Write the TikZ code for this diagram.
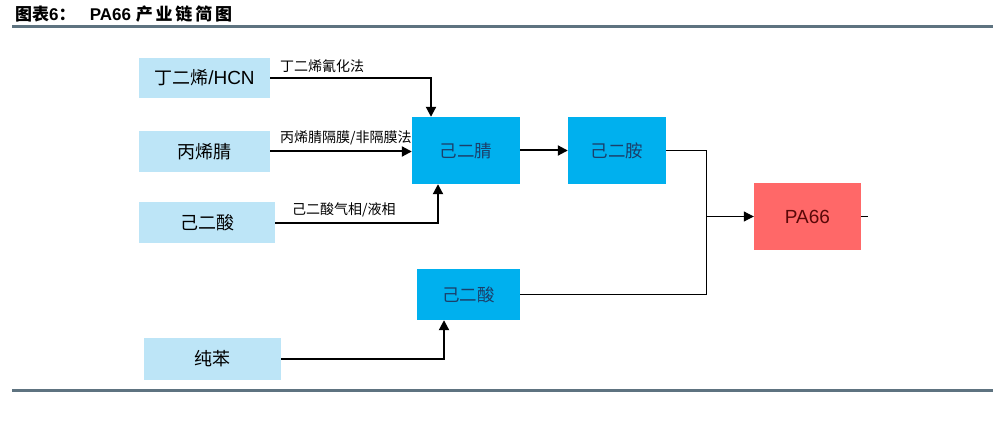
\documentclass[tikz,border=0pt]{standalone}
\usepackage{fontspec}
\setmainfont{Liberation Sans}
\newfontfamily\cjk{Noto Sans CJK SC}
\usetikzlibrary{arrows.meta}
\definecolor{paleblue}{HTML}{BDE5F7}
\definecolor{deepblue}{HTML}{00B0EE}
\definecolor{softred}{HTML}{FF6868}
\definecolor{rulegray}{HTML}{5E7380}
\definecolor{navytext}{HTML}{1B3F6A}
\definecolor{darkred}{HTML}{5A0808}
\tikzset{
  raw/.style={fill=paleblue, inner sep=0pt, font=\cjk\fontsize{18}{18}\selectfont},
  mid/.style={fill=deepblue, inner sep=0pt, text=navytext, font=\cjk\fontsize{17.5}{18}\selectfont},
  arr/.style={-{Triangle[length=10pt,width=10pt]}, line width=2pt},
  thin/.style={line width=1pt},
  lbl/.style={font=\cjk\fontsize{14}{14}\selectfont, inner sep=1pt}
}
\begin{document}
\begin{tikzpicture}[x=1pt,y=-1pt]
    \useasboundingbox (0,0) rectangle (998,422);
    % title and rules
    \node [anchor=west, inner sep=0pt, font=\bfseries\fontsize{17}{17}\selectfont] (title) at (15,14) {{\cjk 图表}6{\cjk ：}\ \ \ PA66 {\cjk 产\,业\,链\,简\,图}};
    \draw[rulegray, line width=3pt] (12,27) -- (993,27);
    \draw[rulegray, line width=3pt] (12,390) -- (993,390);
    % raw materials
    \node [raw, minimum width=131, minimum height=40] (hcn) at (204.5,78) {丁二烯{\rmfamily\fontsize{19}{19}\selectfont /HCN}};
    \node [raw, minimum width=131, minimum height=41] (acn) at (204.5,151.5) {丙烯腈};
    \node [raw, minimum width=136, minimum height=41] (adaL) at (207,222.5) {己二酸};
    \node [raw, minimum width=137, minimum height=42] (bz) at (212.5,359) {纯苯};
    % intermediates
    \node [mid, minimum width=108, minimum height=67] (adn) at (466,150.5) {己二腈};
    \node [mid, minimum width=98, minimum height=67] (hmda) at (617,150.5) {己二胺};
    \node [mid, minimum width=103, minimum height=51] (adaB) at (468.5,294.5) {己二酸};
    % product
    \node [fill=softred, inner sep=0pt, minimum width=107, minimum height=67, text=darkred, font=\fontsize{19}{19}\selectfont] (pa) at (807.5,216.5) {PA66};
    \coordinate (j) at (706,216.5);
    % connectors
    \draw[arr] (hcn.east) -| ([xshift=-35]adn.north) node[lbl, anchor=south west, pos=0, xshift=8, yshift=3] {丁二烯氰化法};
    \draw[arr] (acn.east) -- (acn.east -| adn.west) node[lbl, anchor=south west, pos=0, xshift=8, yshift=4] {丙烯腈隔膜/非隔膜法};
    \draw[arr] (adaL.east) -| ([xshift=-28]adn.south) node[lbl, anchor=south west, pos=0, xshift=15, yshift=3] {己二酸气相/液相};
    \draw[arr] (bz.east) -| ([xshift=-24.5]adaB.south);
    \draw[arr] (adn.east) -- (adn.east -| hmda.west);
    \draw[thin] (hmda.east) -| (j);
    \draw[thin] (adaB.east) -| (j);
    \draw[thin, -{Triangle[length=10pt,width=10pt]}] (j) -- (pa.west);
    \draw[thin] (pa.east) -- ++(7,0);
  \end{tikzpicture}
\end{document}
